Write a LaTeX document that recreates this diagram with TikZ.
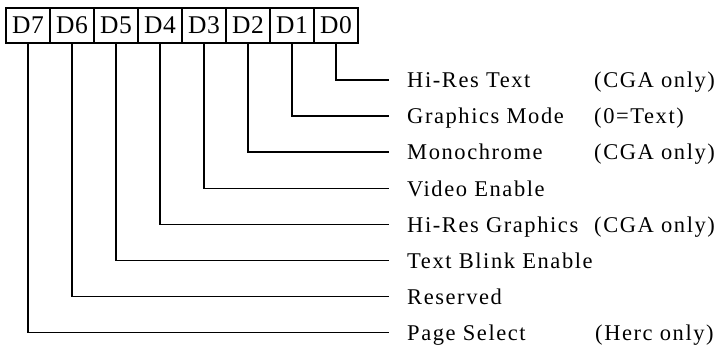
\documentclass[tikz,border=0pt]{standalone}
\usepackage{fontspec}
\usepackage{tikz}
\usetikzlibrary{positioning}
\newfontfamily\labelfont[LetterSpace=7]{Liberation Serif}
\newfontfamily\bitfont[LetterSpace=3]{Liberation Serif}

\begin{document}
\begin{tikzpicture}[
    x=1pt, y=-1pt,
    bitbox/.style={draw, line width=1.8pt, outer sep=0pt, inner sep=0pt,
        minimum width=44pt, minimum height=35pt,
        font=\bitfont\fontsize{25.5}{26}\selectfont},
    fieldname/.style={anchor=west, inner xsep=18pt, inner ysep=0pt,
        text height=15pt, text depth=0pt,
        font=\labelfont\fontsize{22.5}{26}\selectfont},
    fieldnote/.style={fieldname, inner xsep=0pt},
    wire/.style={line width=1.7pt}
]

\useasboundingbox (0,0) rectangle (720,346);

% register bits
\node[bitbox] (b7) at (28,25.5) {D7};
\node[bitbox, right=0pt of b7] (b6) {D6};
\node[bitbox, right=0pt of b6] (b5) {D5};
\node[bitbox, right=0pt of b5] (b4) {D4};
\node[bitbox, right=0pt of b4] (b3) {D3};
\node[bitbox, right=0pt of b3] (b2) {D2};
\node[bitbox, right=0pt of b2] (b1) {D1};
\node[bitbox, right=0pt of b1] (b0) {D0};

% field names
\node[fieldname] (f0) at (389,80) {Hi-Res Text};
\node[fieldname] (f1) at (389,116) {Graphics Mode};
\node[fieldname] (f2) at (389,152) {Monochrome};
\node[fieldname] (f3) at (389,188.5) {Video Enable};
\node[fieldname] (f4) at (389,224.5) {Hi-Res Graphics};
\node[fieldname] (f5) at (389,260.5) {Text Blink Enable};
\node[fieldname] (f6) at (389,296.5) {Reserved};
\node[fieldname] (f7) at (389,332.5) {Page Select};

\node[fieldnote] (n0) at (594,80) {(CGA only)};
\node[fieldnote] (n1) at (594,116) {(0=Text)};
\node[fieldnote] (n2) at (594,152) {(CGA only)};
\node[fieldnote] (n4) at (594,224.5) {(CGA only)};
\node[fieldnote] (n7) at (595,332.5) {(Herc only)};

\draw[wire] (b0.south) |- (f0.west);
\draw[wire] (b1.south) |- (f1.west);
\draw[wire] (b2.south) |- (f2.west);
\draw[wire] (b3.south) |- (f3.west);
\draw[wire] (b4.south) |- (f4.west);
\draw[wire] (b5.south) |- (f5.west);
\draw[wire] (b6.south) |- (f6.west);
\draw[wire] (b7.south) |- (f7.west);

\end{tikzpicture}
\end{document}
